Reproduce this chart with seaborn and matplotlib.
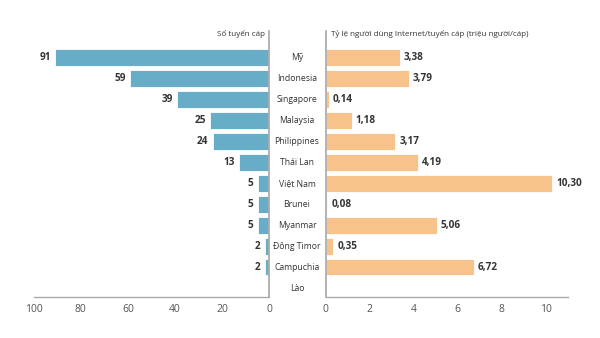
import matplotlib
matplotlib.use("Agg")
import matplotlib.pyplot as plt
import matplotlib.transforms as mtransforms
import seaborn as sns
import pandas as pd

countries = ["Mỹ", "Indonesia", "Singapore", "Malaysia", "Philippines", "Thái Lan",
             "Việt Nam", "Brunei", "Myanmar", "Đông Timor", "Campuchia", "Lào"]
cables = [91, 59, 39, 25, 24, 13, 5, 5, 5, 2, 2, 0]
ratio = [3.38, 3.79, 0.14, 1.18, 3.17, 4.19, 10.30, 0.08, 5.06, 0.35, 6.72, None]
left_ticks = [100, 80, 60, 40, 20, 0]
right_ticks = [0, 2, 4, 6, 8, 10]
left_title = "Số tuyến cáp"
right_title = "Tỷ lệ người dùng Internet/tuyến cáp (triệu người/cáp)"

sns.set_theme(style="white")
plt.rcParams['font.family'] = ['Open Sans', 'DejaVu Sans']

df = pd.DataFrame({"country": countries, "cables": cables, "ratio": ratio})

W, H = 600, 338
fig = plt.figure(figsize=(6, 3.38), dpi=100)
top, bottom = 31, 297
axL = fig.add_axes([33.7 / W, (H - bottom) / H, (269.3 - 33.7) / W, (bottom - top) / H])
axR = fig.add_axes([325.7 / W, (H - bottom) / H, 242 / W, (bottom - top) / H])

blue = "#68adc7"
orange = "#f7c38b"
grey = "#aaaaaa"
txt = "#333333"

sns.barplot(data=df, x="cables", y="country", ax=axL, color=blue, width=0.8,
            edgecolor="white", linewidth=0.6, saturation=1, orient="h")
sns.barplot(data=df, x="ratio", y="country", ax=axR, color=orange, width=0.8,
            edgecolor="white", linewidth=0.6, saturation=1, orient="h")

ylim = (11.43, -1.28)
for ax in (axL, axR):
    ax.set_ylim(*ylim)
    ax.set_ylabel("")
    ax.set_xlabel("")
    ax.set_yticks([])
    for s in ax.spines.values():
        s.set_visible(False)
    ax.spines["bottom"].set_visible(True)
    ax.spines["bottom"].set_color(grey)
    ax.spines["bottom"].set_linewidth(1.0)
    ax.tick_params(axis="x", length=0, pad=5, labelsize=7.5, labelcolor="#555555")

axL.set_xlim(100, 0)
axL.set_xticks(left_ticks)
axL.set_xticklabels([str(t) for t in left_ticks])
axL.spines["right"].set_visible(True)
axL.spines["right"].set_color(grey)

axR.set_xlim(0, 11)
axR.set_xticks(right_ticks)
axR.set_xticklabels([str(t) for t in right_ticks])
axR.spines["left"].set_visible(True)
axR.spines["left"].set_color(grey)

for i, v in enumerate(cables):
    if v > 0:
        axL.text(v + 1.8, i, str(v), ha="right", va="center", fontsize=7.2,
                 fontweight="bold", color=txt)
for i, v in enumerate(ratio):
    if v is not None:
        axR.text(v + 0.17, i, f"{v:.2f}".replace(".", ","), ha="left", va="center",
                 fontsize=7.2, fontweight="bold", color=txt)

# category labels centred between the axes
trans = mtransforms.blended_transform_factory(fig.transFigure, axL.transData)
for i, c in enumerate(countries):
    fig.text(297 / W, i, c, ha="center", va="center", fontsize=6.2, color=txt,
             transform=trans)

fig.text(265 / W, (H - 34) / H, left_title, ha="right", va="center", fontsize=5.8, color=txt)
fig.text(331 / W, (H - 34) / H, right_title, ha="left", va="center", fontsize=5.8, color=txt)

fig.savefig("out.png", dpi=100)
